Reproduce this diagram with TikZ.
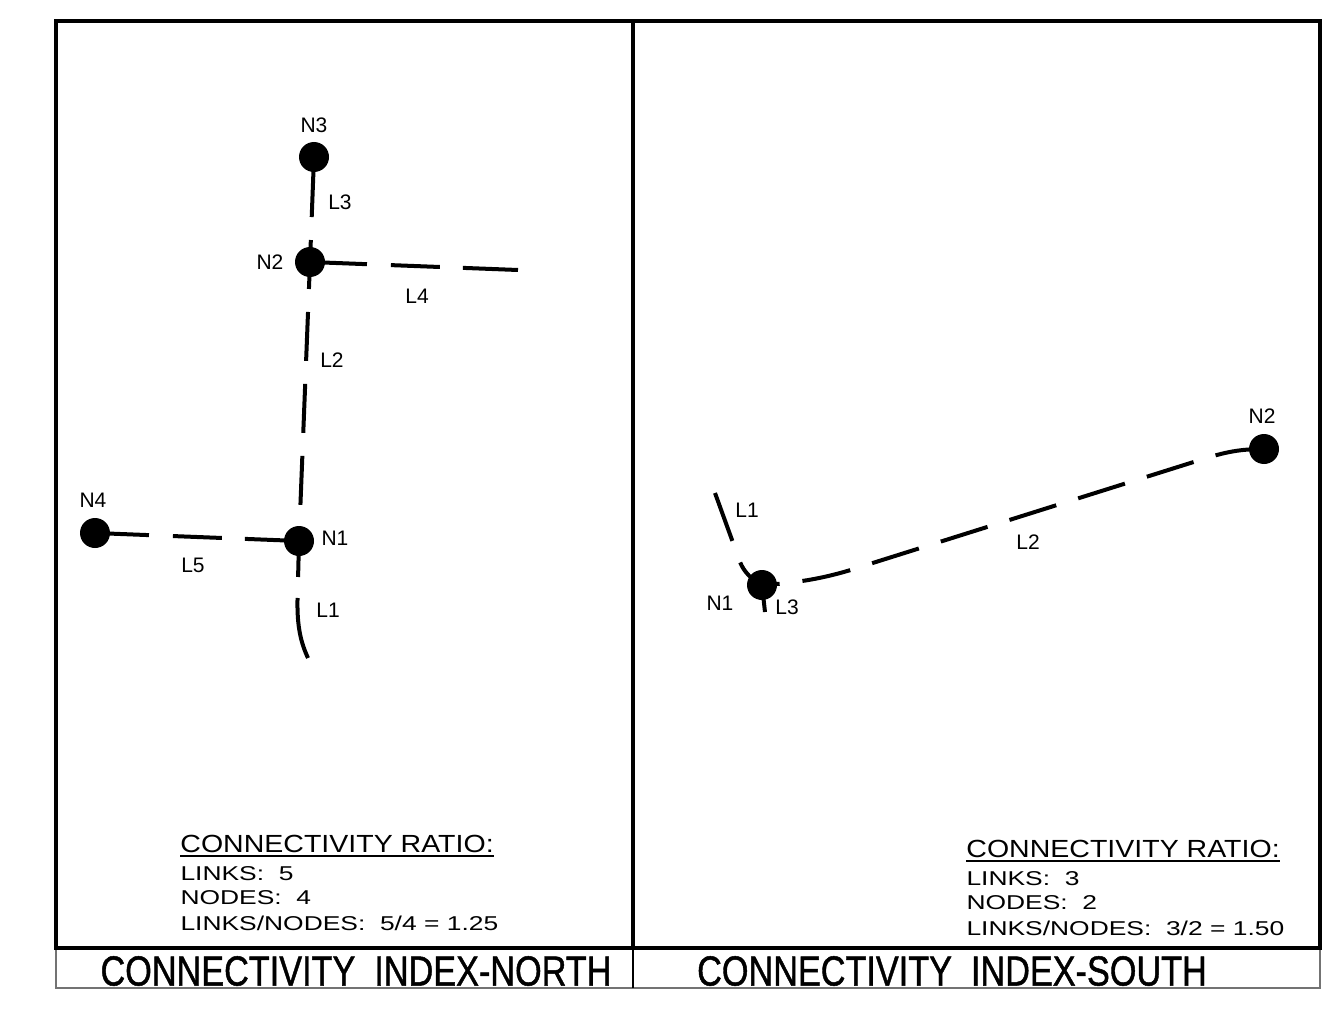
\documentclass[tikz,border=0pt]{standalone}
\usepackage{fontspec}
\setmainfont{Liberation Sans}
\newfontfamily\titlefont[FakeBold=1.2]{Liberation Sans}
\usetikzlibrary{backgrounds}

\tikzset{
    dot/.style={circle, fill=black, inner sep=0pt, minimum size=15pt},
    lbl/.style={font=\fontsize{10.5}{12}\selectfont, inner sep=0pt},
    link/.style={line width=2pt},
    dashlink/.style={link, dash pattern=on 24.5pt off 11.5pt},
    frame/.style={line width=2pt},
    strip/.style={line width=0.7pt, draw=black!55},
    ratiohead/.style={font=\fontsize{12.4}{14}\selectfont, xscale=1.15, anchor=base west, inner sep=0pt},
    ratioline/.style={font=\fontsize{10}{12}\selectfont, xscale=1.32, anchor=base west, inner sep=0pt},
    title/.style={font=\titlefont\fontsize{21}{24}\selectfont, xscale=0.815, anchor=base, inner sep=0pt},
}

\begin{document}
\begin{tikzpicture}[x=0.5pt, y=-0.5pt]
    \useasboundingbox (0,0) rectangle (1329,1011);

    % Frame and title strip
    \draw[strip] (56,948) rectangle (1320,988);
    \draw[line width=0.7pt] (633,948) -- (633,988);
    \draw[frame] (56,21) rectangle (1320,948);
    \draw[frame] (633,21) -- (633,948);

    % North: nodes
    \node[dot] (nN3) at (314,157) {};
    \node[dot] (nN2) at (310,262) {};
    \node[dot] (nN1) at (299,541) {};
    \node[dot] (nN4) at (95,533) {};
    \coordinate (nL4end) at (518,270);
    \coordinate (nL1end) at (308,658);

    \node[lbl] (tN3) at (314,125) {N3};
    \node[lbl] (tN2) at (270,262) {N2};
    \node[lbl] (tN1) at (335,538) {N1};
    \node[lbl] (tN4) at (93,500) {N4};

    % North: links
    \begin{scope}[on background layer]
        \draw[link, dash pattern=on 11pt off 11.5pt on 24.5pt off 20pt] (nN2.center) -- (nN3.center);
        \draw[dashlink, dash phase=11pt] (nN2.center) -- (nN1.center);
        \draw[link, dash pattern=on 28.5pt off 12pt on 24.5pt off 11.5pt on 30pt off 10pt] (nN2.center) -- (nL4end);
        \draw[link, dash pattern=on 27pt off 12pt on 24.5pt off 11.5pt on 40pt off 10pt] (nN4.center) -- (nN1.center);
        \draw[link, dash pattern=on 18pt off 10.5pt on 100pt off 10pt]
            (nN1.center) -- (297.5,600) .. controls (297,627) and (301,643) .. (nL1end);
    \end{scope}

    \node[lbl] (tnL3) at (340,202) {L3};
    \node[lbl] (tnL4) at (417,296) {L4};
    \node[lbl] (tnL2) at (332,360) {L2};
    \node[lbl] (tnL5) at (193,565) {L5};
    \node[lbl] (tnL1) at (328,610) {L1};

    % South: nodes
    \node[dot] (sN1) at (762,585) {};
    \node[dot] (sN2) at (1264,449) {};
    \coordinate (sL1end) at (715,493);
    \coordinate (sL3end) at (765,612);

    \node[lbl] (tsN1) at (720,603) {N1};
    \node[lbl] (tsN2) at (1262,416) {N2};

    % South: links
    \begin{scope}[on background layer]
        \draw[link, dash pattern=on 16pt off 11.5pt on 40pt off 10pt]
            (sN1.center) .. controls (752,580) and (744,572) .. (740,562) -- (sL1end);
        \draw[link] (sN1.center) -- (sL3end);
        \draw[dashlink] (sN2.center) .. controls (1240,449) and (1225,452) .. (1200,460)
            -- (860,567) .. controls (830,577) and (800,583) .. (sN1.center);
    \end{scope}

    \node[lbl] (tsL1) at (747,510) {L1};
    \node[lbl] (tsL3) at (787,607) {L3};
    \node[lbl] (tsL2) at (1028,542) {L2};

    % Ratio blocks
    \node[ratiohead] (rhN) at (180,852) {CONNECTIVITY RATIO:};
    \draw[line width=1pt] ([yshift=-1.5pt]rhN.south west) -- ([yshift=-1.5pt]rhN.south east);
    \node[ratioline] (rlN1) at (180,880) {LINKS:~~5};
    \node[ratioline] (rlN2) at (180,904) {NODES:~~4};
    \node[ratioline] (rlN3) at (180,930) {LINKS/NODES:~~5/4 = 1.25};

    \node[ratiohead] (rhS) at (966,857) {CONNECTIVITY RATIO:};
    \draw[line width=1pt] ([yshift=-1.5pt]rhS.south west) -- ([yshift=-1.5pt]rhS.south east);
    \node[ratioline] (rlS1) at (966,885) {LINKS:~~3};
    \node[ratioline] (rlS2) at (966,909) {NODES:~~2};
    \node[ratioline] (rlS3) at (966,935) {LINKS/NODES:~~3/2 = 1.50};

    % Titles
    \node[title] (ttNorth) at (356,985.5) {CONNECTIVITY~~INDEX-NORTH};
    \node[title] (ttSouth) at (952,985.5) {CONNECTIVITY~~INDEX-SOUTH};
\end{tikzpicture}
\end{document}
